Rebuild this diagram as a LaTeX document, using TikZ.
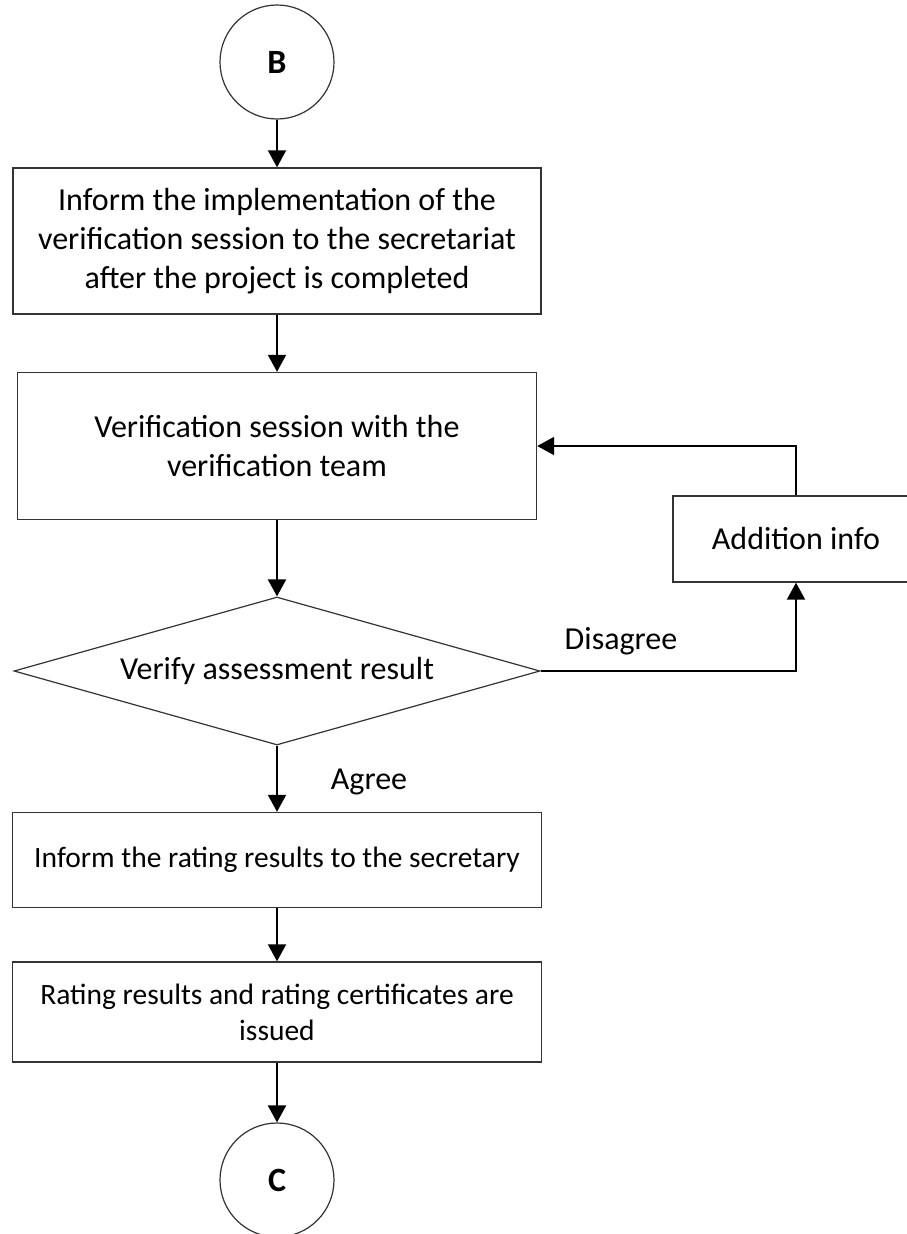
\documentclass[tikz,border=0pt]{standalone}
\usepackage{fontspec}
\setmainfont{Carlito}
\usetikzlibrary{shapes.geometric,arrows.meta}

\begin{document}
\begin{tikzpicture}[x=1pt,y=-1pt,
    every node/.style={font=\fontsize{32}{39}\selectfont},
    procbox/.style={draw=black!80,line width=1.4pt,rectangle,align=center,inner sep=0pt},
    smalltext/.style={font=\fontsize{29.5}{36}\selectfont},
    connector/.style={draw=black!80,line width=1.2pt,circle,inner sep=0pt,minimum size=114pt,font=\fontsize{34}{40}\selectfont\bfseries},
    decision/.style={draw=black!80,line width=1.2pt,diamond,aspect=3.55,inner sep=0pt,minimum width=526pt,minimum height=148pt},
    flowarrow/.style={draw=black,line width=2pt,-{Triangle[length=17pt,width=18pt]}}]
    \useasboundingbox (0,0) rectangle (906,1234);
    \fill[white] (0,0) rectangle (906,1234);

    \node[connector] (nodeB) at (277,62) {B};
    \node[procbox,minimum width=528pt,minimum height=146pt] (inform) at (277,241)
      {Inform the implementation of the\\verification session to the secretariat\\after the project is completed};
    \node[procbox,minimum width=519pt,minimum height=147pt] (session) at (277,446)
      {Verification session with the\\verification team};
    \node[decision] (verify) at (277,671) {};
    \node at (277,671) {Verify assessment result};
    \node[procbox,minimum width=246pt,minimum height=86pt] (addinfo) at (796,539) {Addition info};
    \node[procbox,smalltext,minimum width=529pt,minimum height=95pt] (rating) at (277,860)
      {Inform the rating results to the secretary};
    \node[procbox,smalltext,minimum width=529pt,minimum height=100pt] (issued) at (277,1012)
      {Rating results and rating certificates are\\issued};
    \node[connector] (nodeC) at (277,1180) {C};

    \node (lblno) at (621,641) {Disagree};
    \node (lblyes) at (369,782) {Agree};

    \draw[flowarrow] (nodeB) -- (inform);
    \draw[flowarrow] (inform) -- (session);
    \draw[flowarrow] (session) -- (verify.north);
    \draw[flowarrow] (verify.south) -- (rating);
    \draw[flowarrow] (rating) -- (issued);
    \draw[flowarrow] (issued) -- (nodeC);
    \draw[flowarrow] (verify.east) -| (addinfo.south);
    \draw[flowarrow] (addinfo.north) |- (session.east);
\end{tikzpicture}
\end{document}
